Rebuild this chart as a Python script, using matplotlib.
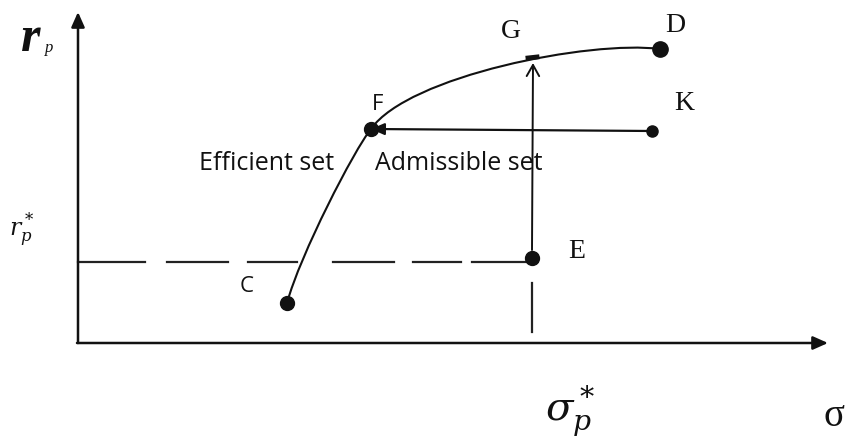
import matplotlib
matplotlib.use("Agg")
import matplotlib.pyplot as plt
from matplotlib.path import Path
from matplotlib.patches import PathPatch

# diagram drawn in a pixel-like coordinate frame (y grows downward)
W, H = 849, 441

# axes
origin = (78, 343)
y_top = 12
x_right = 828

# efficient frontier C -> F -> D as two cubic Bezier pieces
front_x = [287, 300, 354, 371, 408, 590, 660]
front_y = [303, 255, 150, 129, 76, 40, 49]

# named points
pt_names = ["C", "F", "E", "D", "K"]
pt_x = [287, 371, 532, 660, 652]
pt_y = [303, 129, 258, 49, 131]
pt_size = [10, 10, 10, 11, 8]

# point labels
lab_text = ["C", "F", "G", "D", "K", "E"]
lab_x = [247, 378, 511, 675, 684, 577]
lab_y = [287, 104, 31, 25, 104, 252]
lab_serif = [False, False, True, True, True, True]

# dashed level r_p* (segments as drawn)
dash_y = 262
dash_start = [78, 167, 248, 333, 413, 472]
dash_end = [145, 228, 297, 394, 461, 532]

G = (533, 57)
E = (532, 258)
F = (371, 129)
K = (652, 131)

fig = plt.figure(figsize=(W / 100, H / 100), dpi=100)
ax = fig.add_axes([0, 0, 1, 1])
ax.set_xlim(0, W)
ax.set_ylim(H, 0)
ax.axis("off")

ink = "#111111"

# y axis and x axis with filled heads
ax.annotate("", xy=(origin[0], y_top), xytext=origin,
            arrowprops=dict(arrowstyle="-|>,head_length=0.9,head_width=0.4",
                            color=ink, lw=1.8, shrinkA=0, shrinkB=0))
ax.annotate("", xy=(x_right, origin[1]), xytext=(origin[0] - 1, origin[1]),
            arrowprops=dict(arrowstyle="-|>,head_length=0.9,head_width=0.4",
                            color=ink, lw=1.8, shrinkA=0, shrinkB=0))

# frontier curve
codes = [Path.MOVETO] + [Path.CURVE4] * 6
front = Path(list(zip(front_x, front_y)), codes)
ax.add_patch(PathPatch(front, fill=False, edgecolor=ink, lw=1.5))

# dashed r_p* level
for a, b in zip(dash_start, dash_end):
    ax.plot([a, b], [dash_y, dash_y], color="#222222", lw=1.6)

# dashed piece below E
ax.plot([E[0], E[0]], [283, 332], color="#222222", lw=1.6)

# K -> F
ax.annotate("", xy=F, xytext=K,
            arrowprops=dict(arrowstyle="-|>,head_length=0.8,head_width=0.35",
                            color=ink, lw=1.6, shrinkA=0, shrinkB=0))
# E -> G
ax.annotate("", xy=(G[0], G[1] + 6), xytext=(E[0], E[1] - 8),
            arrowprops=dict(arrowstyle="->,head_length=0.8,head_width=0.45",
                            color=ink, lw=1.4, shrinkA=0, shrinkB=0))

# small mark at G
ax.plot([G[0] - 5, G[0] + 4], [G[1] + 1, G[1]], color=ink, lw=3.5)

# points
for x, y, s in zip(pt_x, pt_y, pt_size):
    ax.plot(x, y, "o", color=ink, ms=s)

for t, x, y, serif in zip(lab_text, lab_x, lab_y, lab_serif):
    if serif:
        ax.text(x, y, t, family="Liberation Serif", fontsize=20,
                ha="center", va="center", color=ink)
    else:
        ax.text(x, y, t, family="Open Sans", fontsize=16,
                ha="center", va="center", color=ink)

ax.text(199, 164, "Efficient set", family="Open Sans", fontsize=18,
        ha="left", va="center", color=ink)
ax.text(375, 164, "Admissible set", family="Open Sans", fontsize=18,
        ha="left", va="center", color=ink)

# axis labels
ax.text(21, 51, "r", family="Liberation Serif", style="italic",
        weight="bold", fontsize=36, ha="left", va="baseline", color=ink)
ax.text(45, 52, "p", family="Liberation Serif", style="italic",
        fontsize=12, ha="left", va="baseline", color=ink)

plt.rcParams["mathtext.fontset"] = "dejavuserif"
ax.text(9, 230, r"$r_p^*$", fontsize=17, ha="left", va="center", color=ink)
ax.text(545, 412, r"$\sigma_p^*$", fontsize=29, ha="left", va="center",
        color=ink)
ax.text(824, 416, "σ", family="Liberation Serif", fontsize=28,
        ha="left", va="center", color=ink)

fig.savefig("out.png", dpi=100)
